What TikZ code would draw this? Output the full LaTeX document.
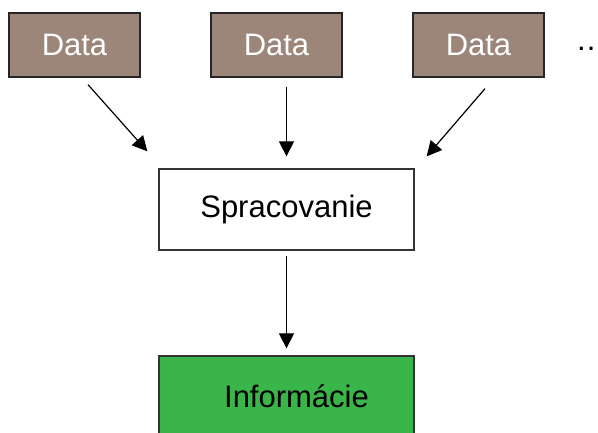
\documentclass[tikz,border=0pt]{standalone}
\usepackage{fontspec}
\setmainfont{Liberation Sans}
\usetikzlibrary{arrows.meta}

\definecolor{databrown}{RGB}{156,134,121}
\definecolor{infogreen}{RGB}{58,181,74}

\tikzset{
  labelfont/.style={font=\fontsize{31}{36}\selectfont},
  databox/.style={draw=black!85, line width=1.3pt, fill=databrown,
    minimum width=131pt, minimum height=64pt, inner sep=0pt,
    text=white, labelfont},
  procbox/.style={draw=black!80, line width=1.3pt, fill=white,
    minimum width=255pt, minimum height=81pt, inner sep=0pt, labelfont},
  infobox/.style={procbox, fill=infogreen},
  flow/.style={line width=1.2pt, -{Triangle[length=15pt,width=15pt]}}
}

\begin{document}
\begin{tikzpicture}[x=1pt, y=-1pt]
  \useasboundingbox (0,0) rectangle (598,432);

  % data sources
  \node[databox] (d1) at (74.5,45) {Data};
  \node[databox] (d2) at (276.5,45) {Data};
  \node[databox] (d3) at (478.5,45) {Data};
  \node[anchor=base west, inner sep=0pt, labelfont] (more) at (577,50) {.\kern1.2pt.};

  % processing and result
  \node[procbox] (proc) at (286.5,209.5) {Spracovanie};
  \node[infobox] (info) at (286.5,396.5) {\hspace*{20pt}Informácie};

  % connectors
  \draw[flow] ([shift={(13.5,7)}]d1.south) -- ([shift={(-11,-17)}]proc.north west);
  \draw[flow] ([yshift=-9pt]proc.north |- d2.south) -- ([yshift=12pt]proc.north);
  \draw[flow] ([shift={(6.5,11)}]d3.south) -- ([shift={(12,-12)}]proc.north east);
  \draw[flow] ([yshift=-5pt]proc.south) -- ([yshift=7pt]info.north);
\end{tikzpicture}
\end{document}
